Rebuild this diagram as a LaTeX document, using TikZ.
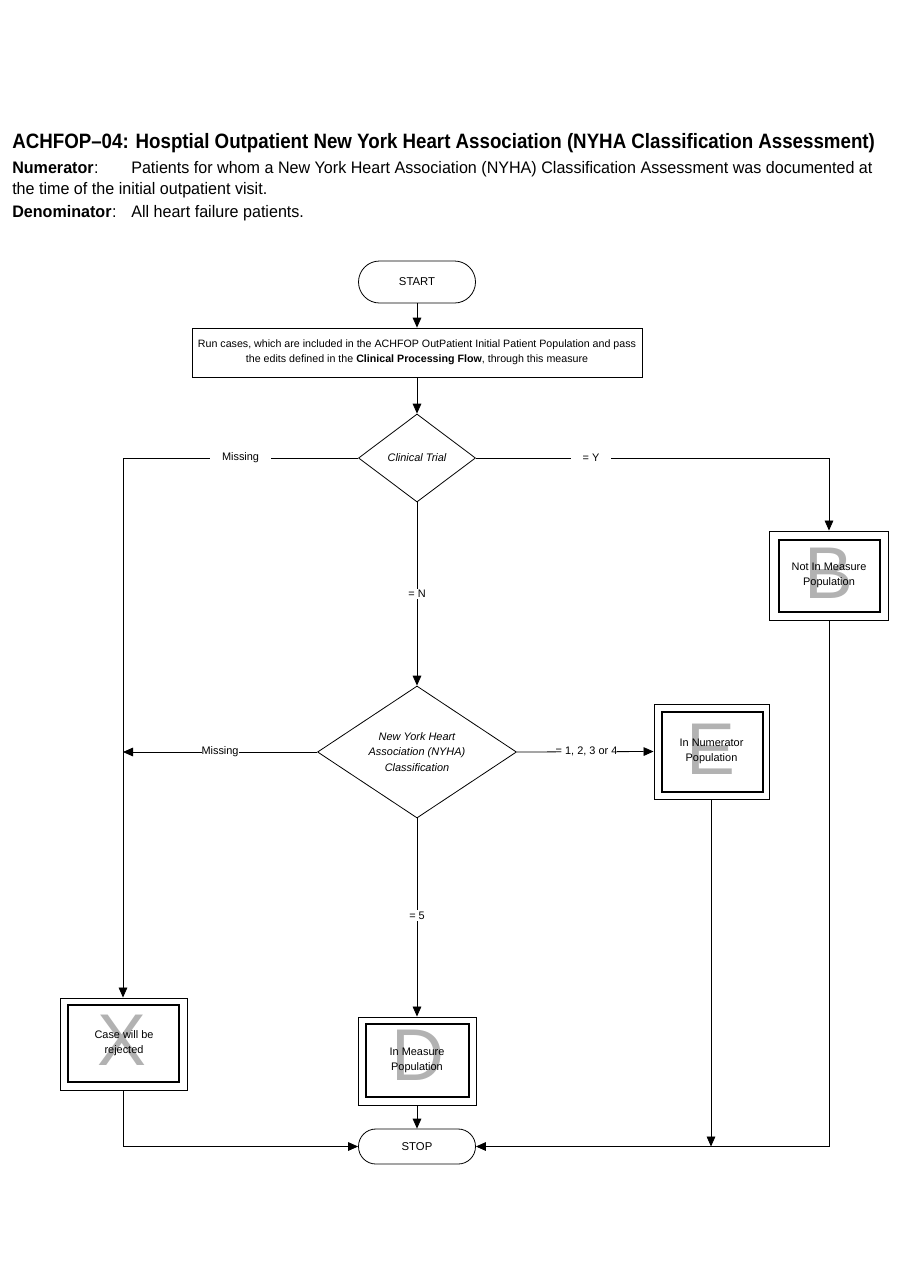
\documentclass[tikz,border=0pt]{standalone}
\usepackage{fontspec}
\setmainfont{Liberation Sans}
\newfontfamily\hdfont[FakeStretch=0.90]{Liberation Sans}
\newfontfamily\bdfont[FakeStretch=0.966]{Liberation Sans}
\usetikzlibrary{arrows.meta,shapes.geometric}
\newcommand\PX{0.75pt}
\tikzset{
  ln/.style={line width=0.6pt, draw=black},
  arr/.style={ln, -{Triangle[length=7.5pt,width=6.5pt]}},
  term/.style={draw, line width=0.6pt, rectangle, rounded corners=#1, inner sep=0pt, font=\fontsize{8.5pt}{10pt}\selectfont},
  proc/.style={draw, line width=0.6pt, rectangle, inner sep=0pt, align=center, font=\fontsize{8pt}{11.2pt}\selectfont},
  dec/.style={draw, line width=0.6pt, diamond, inner sep=0pt},
  dtext/.style={align=center, font=\fontsize{8.2pt}{11.5pt}\selectfont\itshape},
  outbox/.style={draw, line width=0.7pt, rectangle, inner sep=0pt},
  inbox/.style={draw, line width=0.9pt, rectangle, inner sep=0pt},
  bigletter/.style={text=black!30, inner sep=0pt, font=\fontsize{55pt}{55pt}\selectfont},
  btext/.style={align=center, inner sep=0pt, font=\fontsize{8.2pt}{11.2pt}\selectfont},
  lbl/.style={fill=white, inner xsep=#1, inner ysep=1pt, font=\fontsize{8.2pt}{10pt}\selectfont},
  lbl/.default=6pt,
  hd/.style={anchor=base west, inner sep=0pt, font=\bdfont\fontsize{12.5pt}{14pt}\selectfont},
}
\begin{document}
\begin{tikzpicture}[x=0.75pt,y=-0.75pt]
\useasboundingbox (0,0) rectangle (900,1286);
% header
\node[anchor=base west, inner sep=0pt, font=\hdfont\fontsize{15.6pt}{18pt}\selectfont\bfseries] (title) at (12,148)
  {ACHFOP–04: Hosptial Outpatient New York Heart Association (NYHA Classification Assessment)};
\node[hd, font=\bdfont\fontsize{12.5pt}{14pt}\selectfont\bfseries] (numl) at (12,173) {Numerator};
\node[hd] (numc) at (numl.base east) {:};
\node[hd] (numt) at (131,173)
  {Patients for whom a New York Heart Association (NYHA) Classification Assessment was documented at};
\node[hd] (numt2) at (12,194) {the time of the initial outpatient visit.};
\node[hd, font=\bdfont\fontsize{12.5pt}{14pt}\selectfont\bfseries] (denl) at (12,217) {Denominator};
\node[hd] (denc) at (denl.base east) {:};
\node[hd] (dent) at (131,217) {All heart failure patients.};

% nodes
\node[term=15.75pt, minimum width=117*\PX, minimum height=42*\PX] (start) at (417,282) {START};
\node[proc, minimum width=450*\PX, minimum height=49*\PX] (run) at (417,352.5)
  {Run cases, which are included in the ACHFOP OutPatient Initial Patient Population and pass\\
   the edits defined in the \textbf{Clinical Processing Flow}, through this measure};
\node[dec, minimum width=117*\PX, minimum height=88*\PX] (ct) at (417,458) {};
\node[dtext] (ctt) at (ct) {Clinical Trial};
\node[dec, minimum width=199*\PX, minimum height=132*\PX] (ny) at (417,752) {};
\node[dtext] (nyt) at (ny) {New York Heart\\Association (NYHA)\\Classification};

% B box
\node[outbox, minimum width=119*\PX, minimum height=89*\PX] (bo) at (828.5,575.5) {};
\node[inbox, minimum width=101*\PX, minimum height=72*\PX] (bi) at (829.5,576) {};
\node[bigletter] (bl) at (829,573) {B};
\node[btext] (bt) at (829,575.5) {Not In Measure\\Population};
% E box
\node[outbox, minimum width=115*\PX, minimum height=95*\PX] (eo) at (711.5,751.5) {};
\node[inbox, minimum width=101*\PX, minimum height=80*\PX] (ei) at (712.5,752) {};
\node[bigletter] (el) at (711,749) {E};
\node[btext] (et) at (711.5,751.5) {In Numerator\\Population};
% D box
\node[outbox, minimum width=118*\PX, minimum height=88*\PX] (do) at (417,1061) {};
\node[inbox, minimum width=103*\PX, minimum height=73*\PX] (di) at (417.5,1060.5) {};
\node[bigletter] (dl) at (418,1055.5) {D};
\node[btext] (dt) at (417,1060) {In Measure\\Population};
% X box
\node[outbox, minimum width=127*\PX, minimum height=92*\PX] (xo) at (123.5,1044) {};
\node[inbox, minimum width=111*\PX, minimum height=77*\PX] (xi) at (123.5,1043.5) {};
\node[bigletter] (xl) at (122,1040.5) {X};
\node[btext] (xt) at (124,1043.5) {Case will be\\rejected};
% STOP
\node[term=13pt, minimum width=117*\PX, minimum height=35*\PX] (stop) at (417,1146.5) {STOP};

% coordinates
\coordinate (cl) at (123,458);
\coordinate (cr) at (829,458);
\coordinate (ml) at (123,752);

% connectors
\draw[arr] (start) -- (run);
\draw[arr] (run) -- (ct);
\draw[ln] (ct.west) -- node[lbl=9pt, pos=0.5] {Missing} (cl);
\draw[arr] (cl) -- (cl |- xo.north);
\draw[ln] (ct.east) -- node[lbl=9pt, pos=0.326] {= Y} (cr);
\draw[arr] (cr) -- (cr |- bo.north);
\draw[arr] (ct.south) -- node[lbl=3pt, pos=0.5] {= N} (ny.north);
\draw[arr] (ny.west) -- node[lbl=0pt, pos=0.5] {Missing} (ml);
\draw[arr] (ny.east) -- node[lbl=0pt, pos=0.51] {= 1, 2, 3 or 4} (eo.west);
\draw[arr] (ny.south) -- node[lbl=3pt, pos=0.49] {= 5} (do.north);
\draw[arr] (do) -- (stop);
\draw[arr] (xo.south -| cl) |- (stop.west);
\draw[arr] (eo.south -| 711,0) -- (711,0 |- stop);
\draw[arr] (bo.south -| cr) |- (stop.east);
\end{tikzpicture}
\end{document}
